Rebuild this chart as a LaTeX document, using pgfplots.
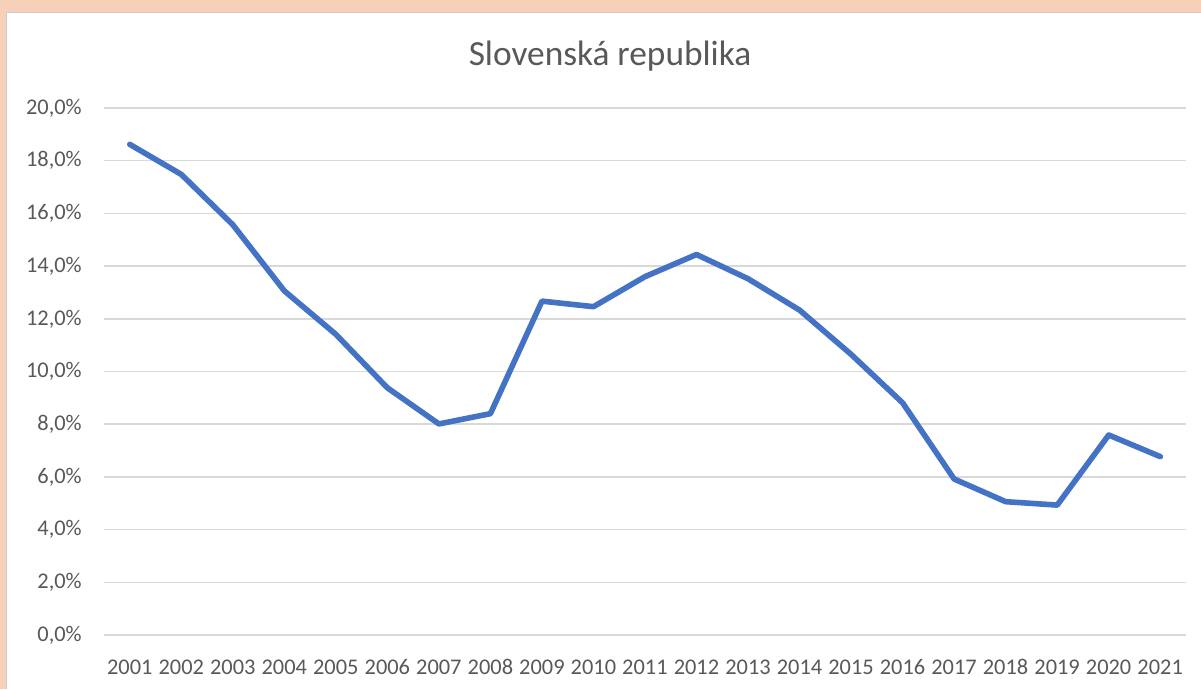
\documentclass[border=0pt]{standalone}
\usepackage{pgfplots}
\pgfplotsset{compat=1.18}
\usepackage{fontspec}
\setmainfont{Carlito}
\definecolor{txtgray}{RGB}{89,89,89}
\definecolor{gridgray}{RGB}{217,217,217}
\definecolor{lineblue}{RGB}{68,114,196}
\definecolor{peach}{RGB}{246,208,184}
\begin{document}
\begin{tikzpicture}[x=0.75pt,y=0.75pt]
\useasboundingbox (0,0) rectangle (1201,689);
\fill[peach] (0,0) rectangle (1201,689);
\fill[white] (6,0) rectangle (1201,677);
\draw[gray!40, line width=0.6pt] (6,0) -- (6,677) -- (1201,677);
\node[anchor=base, inner sep=0pt, text=txtgray, font=\fontsize{26.5}{30}\selectfont] at (610,623) {Slovenská republika};
\begin{axis}[
  at={(78pt,40.5pt)}, anchor=south west,
  scale only axis, width=811.5pt, height=395.25pt,
  xmin=2000.5, xmax=2021.5, ymin=0, ymax=20,
  xtick={2001,...,2021},
  xticklabels={2001,2002,2003,2004,2005,2006,2007,2008,2009,2010,2011,2012,2013,2014,2015,2016,2017,2018,2019,2020,2021},
  ytick={0,2,...,20},
  yticklabels={{0,0\%},{2,0\%},{4,0\%},{6,0\%},{8,0\%},{10,0\%},{12,0\%},{14,0\%},{16,0\%},{18,0\%},{20,0\%}},
  axis line style={draw=none},
  major tick length=0pt,
  ymajorgrids, grid style={gridgray, line width=1.2pt},
  xticklabel style={anchor=base, inner sep=0pt, yshift=-29.5pt, text=txtgray, font=\fontsize{16.8}{19}\selectfont},
  yticklabel style={anchor=east, inner sep=0pt, xshift=-16.5pt, text=txtgray, font=\fontsize{16.8}{19}\selectfont},
  clip=false,
]
\addplot[lineblue, line width=4.2pt, line join=round, line cap=round] coordinates {
(2001,18.62) (2002,17.48) (2003,15.57) (2004,13.06) (2005,11.41) (2006,9.38) (2007,8.01)
(2008,8.40) (2009,12.67) (2010,12.46) (2011,13.60) (2012,14.44) (2013,13.52) (2014,12.33)
(2015,10.65) (2016,8.81) (2017,5.92) (2018,5.06) (2019,4.93) (2020,7.59) (2021,6.77)
};
\end{axis}
\end{tikzpicture}
\end{document}
